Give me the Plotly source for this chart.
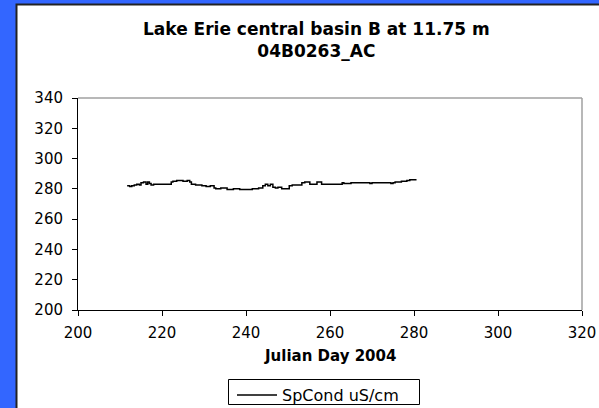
import plotly.graph_objects as go

# ---- data ----
julian_day = [211.7, 212.3, 212.8, 213.4, 214.0, 214.6, 215.0, 215.6, 216.2, 216.6,
              217.0, 217.4, 218.0, 220.0, 222.2, 222.6, 223.5, 225.0, 226.0, 226.6,
              227.0, 228.0, 229.0, 229.5, 230.5, 231.5, 232.4, 232.8, 234.0, 235.5,
              237.0, 238.5, 240.0, 241.5, 243.0, 244.0, 244.6, 245.2, 245.8, 246.4,
              247.0, 247.6, 248.5, 249.5, 250.3, 251.0, 252.0, 253.3, 254.0, 255.2,
              256.9, 258.0, 260.0, 262.0, 262.9, 263.3, 265.0, 267.0, 269.5, 270.0,
              272.0, 274.5, 275.0, 275.5, 277.0, 278.3, 279.0, 280.6]
spcond = [282.0, 281.5, 282.0, 282.5, 283.0, 282.5, 284.0, 284.5, 283.0, 284.5,
          283.5, 282.5, 283.0, 283.0, 284.5, 285.0, 285.5, 285.0, 285.5, 284.5,
          283.0, 282.5, 282.5, 282.0, 281.5, 282.0, 280.5, 280.0, 280.5, 279.5,
          280.0, 279.5, 279.5, 280.0, 280.5, 282.0, 283.0, 282.0, 283.0, 281.0,
          280.5, 281.0, 280.0, 280.0, 282.0, 282.5, 282.5, 284.0, 284.5, 283.0,
          284.5, 283.0, 283.0, 283.0, 284.0, 283.5, 284.0, 284.0, 283.5, 284.0,
          284.0, 283.5, 284.0, 284.5, 285.0, 285.5, 286.0, 286.0]

x_ticks = [200, 220, 240, 260, 280, 300, 320]
y_ticks = [200, 220, 240, 260, 280, 300, 320, 340]

title_text = "Lake Erie central basin B at 11.75 m<br>04B0263_AC"
x_title = "Julian Day 2004"
series_name = "SpCond uS/cm"

W, H = 599, 408
L, R, T, B = 78, 17, 98, 98
pw, ph = W - L - R, H - T - B


def px_x(p):
    return (p - L) / pw


def px_y(p):
    return (H - B - p) / ph


FONT = "DejaVu Sans, Arial, sans-serif"

fig = go.Figure()
fig.add_trace(go.Scatter(
    x=julian_day, y=spcond, mode="lines", name=series_name,
    line=dict(color="black", width=1.5, shape="hv"),
))

shapes = [
    # white chart area over the blue background
    dict(type="rect", xref="paper", yref="paper", layer="below",
         x0=px_x(16.5), x1=px_x(605), y0=px_y(415), y1=px_y(4.5),
         fillcolor="white", line=dict(color="#222222", width=2)),
    # grey top and right borders of the plot area
    dict(type="line", xref="paper", yref="paper", layer="below",
         x0=0, x1=1, y0=1, y1=1, line=dict(color="#a0a0a0", width=1.5)),
    dict(type="line", xref="paper", yref="paper", layer="below",
         x0=1, x1=1, y0=0, y1=1, line=dict(color="#a0a0a0", width=1.5)),
    # legend frame
    dict(type="rect", xref="paper", yref="paper", layer="below",
         x0=px_x(228.5), x1=px_x(419.5), y0=px_y(404.5), y1=px_y(379.5),
         fillcolor="white", line=dict(color="black", width=1)),
]

annotations = [
    dict(text="<b>" + title_text.replace("<br>", "</b><br><b>") + "</b>",
         xref="paper", yref="paper", x=px_x(316), y=px_y(40),
         xanchor="center", yanchor="middle", showarrow=False,
         font=dict(family=FONT, size=17, color="black")),
    dict(text="<b>" + x_title + "</b>",
         xref="paper", yref="paper", x=px_x(330), y=px_y(356),
         xanchor="center", yanchor="middle", showarrow=False,
         font=dict(family=FONT, size=15, color="black")),
]

fig.update_layout(
    width=W, height=H, autosize=False,
    margin=dict(l=L, r=R, t=T, b=B, pad=0, autoexpand=False),
    paper_bgcolor="#3366ff",
    plot_bgcolor="rgba(0,0,0,0)",
    showlegend=True,
    legend=dict(
        x=px_x(232), y=px_y(378), xanchor="left", yanchor="top",
        bgcolor="rgba(0,0,0,0)", borderwidth=0, itemwidth=40,
        font=dict(family=FONT, size=16, color="black"),
    ),
    shapes=shapes,
    annotations=annotations,
    xaxis=dict(
        range=[200, 320], tickvals=x_ticks, ticktext=[str(v) for v in x_ticks],
        ticks="outside", ticklen=5, tickcolor="black", tickwidth=1,
        showline=True, linecolor="black", linewidth=1,
        showgrid=False, zeroline=False, automargin=False,
        ticklabelstandoff=4,
        tickfont=dict(family=FONT, size=15, color="black"),
    ),
    yaxis=dict(
        range=[200, 340], tickvals=y_ticks, ticktext=[str(v) for v in y_ticks],
        ticks="outside", ticklen=5, tickcolor="black", tickwidth=1,
        showline=True, linecolor="black", linewidth=1,
        showgrid=False, zeroline=False, automargin=False,
        ticklabelstandoff=6,
        tickfont=dict(family=FONT, size=15, color="black"),
    ),
)

fig.write_html(
    "out.html",
    config={"displayModeBar": False},
    post_script="document.body.style.margin='0';document.body.style.overflow='hidden';",
)
